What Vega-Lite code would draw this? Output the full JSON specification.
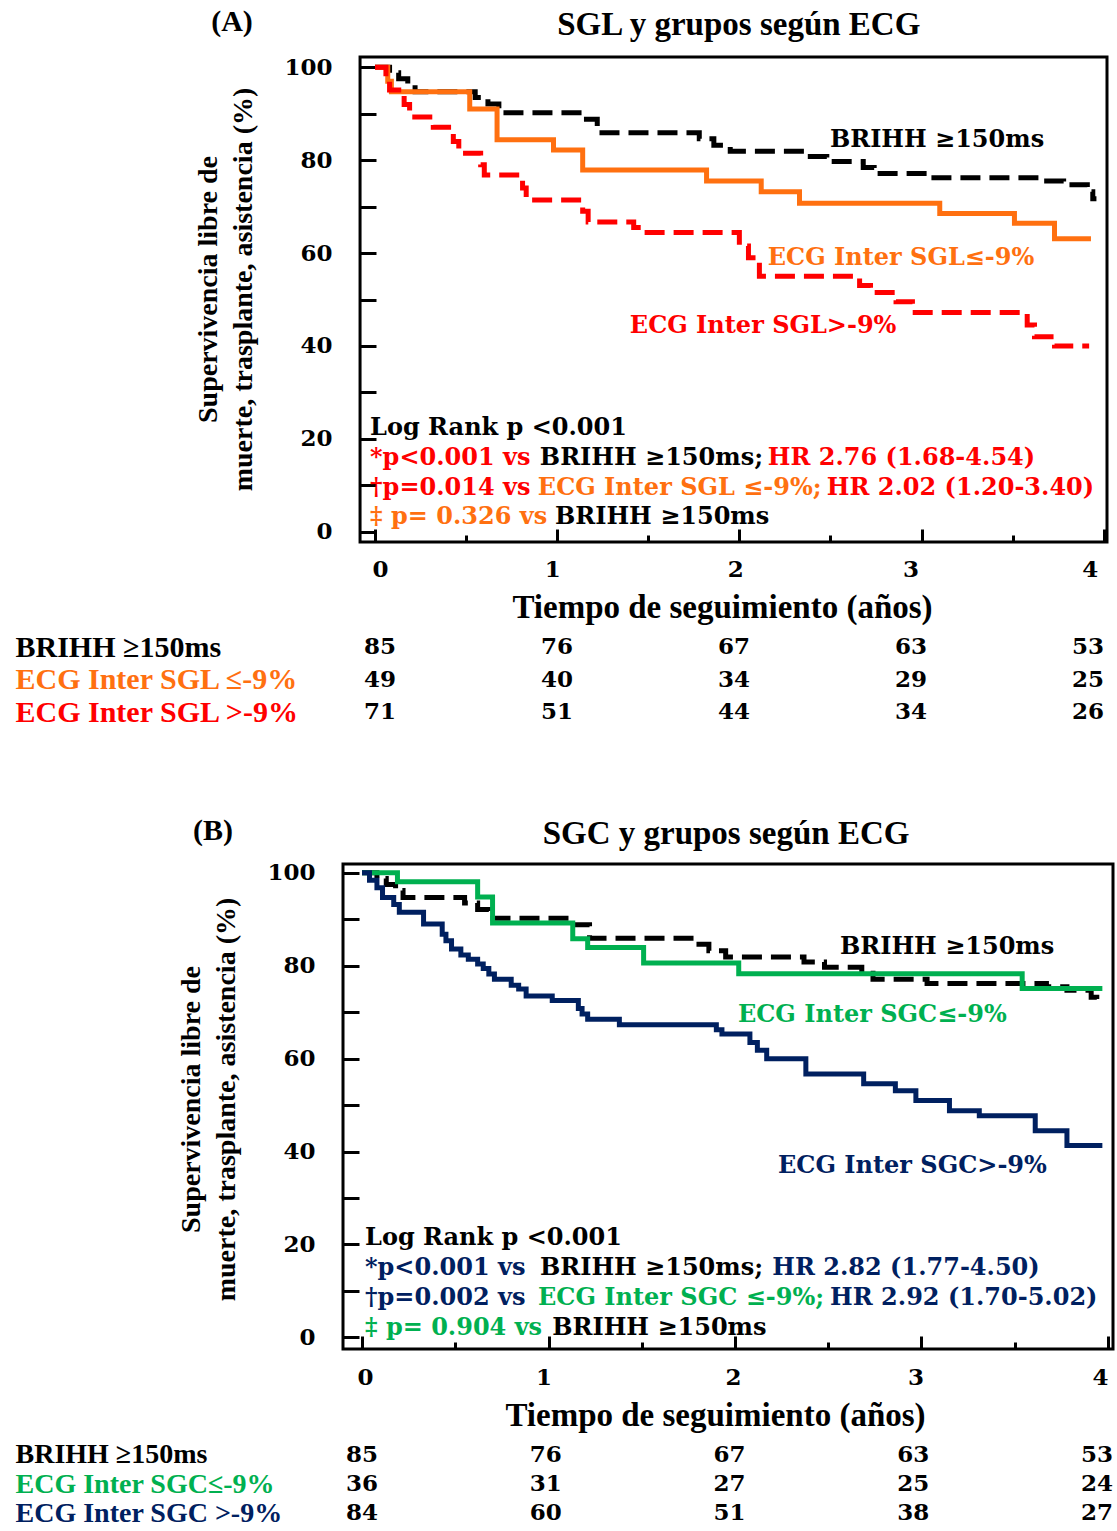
{
  "$schema": "https://vega.github.io/schema/vega-lite/v6.json",
  "background": "white",
  "padding": {"left": 15, "top": 7, "right": 0, "bottom": 0},
  "config": {
    "view": {"stroke": "black", "strokeWidth": 3},
    "axis": {"grid": false, "domain": false, "tickColor": "black", "tickWidth": 3, "labelColor": "black", "titleColor": "black"}
  },
  "resolve": {"scale": {"color": "independent", "strokeDash": "independent"}},
  "datasets": {
    "brihh": [
      {"group": "BRIHH ≥150ms", "t": 0, "s": 100},
      {"group": "BRIHH ≥150ms", "t": 0.08, "s": 98.8},
      {"group": "BRIHH ≥150ms", "t": 0.13, "s": 97.5},
      {"group": "BRIHH ≥150ms", "t": 0.18, "s": 96.2},
      {"group": "BRIHH ≥150ms", "t": 0.22, "s": 94.7},
      {"group": "BRIHH ≥150ms", "t": 0.55, "s": 93.5},
      {"group": "BRIHH ≥150ms", "t": 0.62, "s": 92.1},
      {"group": "BRIHH ≥150ms", "t": 0.68, "s": 90.2},
      {"group": "BRIHH ≥150ms", "t": 1.12, "s": 88.8},
      {"group": "BRIHH ≥150ms", "t": 1.22, "s": 85.9},
      {"group": "BRIHH ≥150ms", "t": 1.78, "s": 84.6},
      {"group": "BRIHH ≥150ms", "t": 1.86, "s": 83.2},
      {"group": "BRIHH ≥150ms", "t": 1.95, "s": 81.9},
      {"group": "BRIHH ≥150ms", "t": 2.37, "s": 80.8},
      {"group": "BRIHH ≥150ms", "t": 2.48, "s": 79.7},
      {"group": "BRIHH ≥150ms", "t": 2.68, "s": 78.4},
      {"group": "BRIHH ≥150ms", "t": 2.74, "s": 77.1},
      {"group": "BRIHH ≥150ms", "t": 3.03, "s": 76.2},
      {"group": "BRIHH ≥150ms", "t": 3.67, "s": 75.5},
      {"group": "BRIHH ≥150ms", "t": 3.78, "s": 74.7},
      {"group": "BRIHH ≥150ms", "t": 3.91, "s": 73.2},
      {"group": "BRIHH ≥150ms", "t": 3.94, "s": 71.7},
      {"group": "BRIHH ≥150ms", "t": 3.96, "s": 71.7}
    ],
    "kmA": [
      {"group": "ECG Inter SGL ≤-9%", "t": 0, "s": 100},
      {"group": "ECG Inter SGL ≤-9%", "t": 0.07, "s": 97.0},
      {"group": "ECG Inter SGL ≤-9%", "t": 0.09, "s": 94.7},
      {"group": "ECG Inter SGL ≤-9%", "t": 0.52, "s": 91.0},
      {"group": "ECG Inter SGL ≤-9%", "t": 0.67, "s": 84.4},
      {"group": "ECG Inter SGL ≤-9%", "t": 0.98, "s": 82.2},
      {"group": "ECG Inter SGL ≤-9%", "t": 1.14, "s": 77.9},
      {"group": "ECG Inter SGL ≤-9%", "t": 1.82, "s": 75.5},
      {"group": "ECG Inter SGL ≤-9%", "t": 2.12, "s": 73.2},
      {"group": "ECG Inter SGL ≤-9%", "t": 2.33, "s": 70.7},
      {"group": "ECG Inter SGL ≤-9%", "t": 3.10, "s": 68.5},
      {"group": "ECG Inter SGL ≤-9%", "t": 3.51, "s": 66.4},
      {"group": "ECG Inter SGL ≤-9%", "t": 3.73, "s": 63.1},
      {"group": "ECG Inter SGL ≤-9%", "t": 3.93, "s": 63.1},
      {"group": "ECG Inter SGL >-9%", "t": 0, "s": 100},
      {"group": "ECG Inter SGL >-9%", "t": 0.06, "s": 97.5},
      {"group": "ECG Inter SGL >-9%", "t": 0.08, "s": 95.1},
      {"group": "ECG Inter SGL >-9%", "t": 0.16, "s": 92.0},
      {"group": "ECG Inter SGL >-9%", "t": 0.19, "s": 89.3},
      {"group": "ECG Inter SGL >-9%", "t": 0.32, "s": 87.1},
      {"group": "ECG Inter SGL >-9%", "t": 0.43, "s": 84.0},
      {"group": "ECG Inter SGL >-9%", "t": 0.46, "s": 81.5},
      {"group": "ECG Inter SGL >-9%", "t": 0.58, "s": 79.0},
      {"group": "ECG Inter SGL >-9%", "t": 0.60, "s": 76.8},
      {"group": "ECG Inter SGL >-9%", "t": 0.81, "s": 74.0},
      {"group": "ECG Inter SGL >-9%", "t": 0.83, "s": 71.4},
      {"group": "ECG Inter SGL >-9%", "t": 1.14, "s": 69.0},
      {"group": "ECG Inter SGL >-9%", "t": 1.17, "s": 66.7},
      {"group": "ECG Inter SGL >-9%", "t": 1.42, "s": 65.5},
      {"group": "ECG Inter SGL >-9%", "t": 1.46, "s": 64.4},
      {"group": "ECG Inter SGL >-9%", "t": 2.00, "s": 61.5},
      {"group": "ECG Inter SGL >-9%", "t": 2.05, "s": 59.0},
      {"group": "ECG Inter SGL >-9%", "t": 2.11, "s": 55.0},
      {"group": "ECG Inter SGL >-9%", "t": 2.66, "s": 53.0},
      {"group": "ECG Inter SGL >-9%", "t": 2.72, "s": 51.5},
      {"group": "ECG Inter SGL >-9%", "t": 2.86, "s": 49.5},
      {"group": "ECG Inter SGL >-9%", "t": 2.95, "s": 47.2},
      {"group": "ECG Inter SGL >-9%", "t": 3.58, "s": 44.5},
      {"group": "ECG Inter SGL >-9%", "t": 3.62, "s": 42.0},
      {"group": "ECG Inter SGL >-9%", "t": 3.73, "s": 40.0},
      {"group": "ECG Inter SGL >-9%", "t": 3.92, "s": 40.0}
    ],
    "kmB": [
      {"group": "ECG Inter SGC≤-9%", "t": 0, "s": 100},
      {"group": "ECG Inter SGC≤-9%", "t": 0.19, "s": 98.1},
      {"group": "ECG Inter SGC≤-9%", "t": 0.62, "s": 94.8},
      {"group": "ECG Inter SGC≤-9%", "t": 0.70, "s": 89.2},
      {"group": "ECG Inter SGC≤-9%", "t": 1.13, "s": 85.8},
      {"group": "ECG Inter SGC≤-9%", "t": 1.21, "s": 83.9},
      {"group": "ECG Inter SGC≤-9%", "t": 1.51, "s": 80.6},
      {"group": "ECG Inter SGC≤-9%", "t": 2.02, "s": 78.3},
      {"group": "ECG Inter SGC≤-9%", "t": 3.54, "s": 75.1},
      {"group": "ECG Inter SGC≤-9%", "t": 3.97, "s": 75.1},
      {"group": "ECG Inter SGC >-9%", "t": 0, "s": 100},
      {"group": "ECG Inter SGC >-9%", "t": 0.04, "s": 98.4},
      {"group": "ECG Inter SGC >-9%", "t": 0.08, "s": 96.8},
      {"group": "ECG Inter SGC >-9%", "t": 0.11, "s": 94.7},
      {"group": "ECG Inter SGC >-9%", "t": 0.17, "s": 93.2},
      {"group": "ECG Inter SGC >-9%", "t": 0.20, "s": 91.5},
      {"group": "ECG Inter SGC >-9%", "t": 0.33, "s": 89.0},
      {"group": "ECG Inter SGC >-9%", "t": 0.43, "s": 86.8},
      {"group": "ECG Inter SGC >-9%", "t": 0.45, "s": 85.4},
      {"group": "ECG Inter SGC >-9%", "t": 0.48, "s": 83.6},
      {"group": "ECG Inter SGC >-9%", "t": 0.53, "s": 82.3},
      {"group": "ECG Inter SGC >-9%", "t": 0.57, "s": 81.4},
      {"group": "ECG Inter SGC >-9%", "t": 0.62, "s": 80.4},
      {"group": "ECG Inter SGC >-9%", "t": 0.65, "s": 79.4},
      {"group": "ECG Inter SGC >-9%", "t": 0.68, "s": 78.2},
      {"group": "ECG Inter SGC >-9%", "t": 0.71, "s": 77.1},
      {"group": "ECG Inter SGC >-9%", "t": 0.80, "s": 75.8},
      {"group": "ECG Inter SGC >-9%", "t": 0.84, "s": 75.0},
      {"group": "ECG Inter SGC >-9%", "t": 0.88, "s": 73.5},
      {"group": "ECG Inter SGC >-9%", "t": 1.02, "s": 72.5},
      {"group": "ECG Inter SGC >-9%", "t": 1.16, "s": 70.8},
      {"group": "ECG Inter SGC >-9%", "t": 1.18, "s": 69.6},
      {"group": "ECG Inter SGC >-9%", "t": 1.21, "s": 68.5},
      {"group": "ECG Inter SGC >-9%", "t": 1.38, "s": 67.3},
      {"group": "ECG Inter SGC >-9%", "t": 1.90, "s": 66.2},
      {"group": "ECG Inter SGC >-9%", "t": 1.93, "s": 65.3},
      {"group": "ECG Inter SGC >-9%", "t": 2.08, "s": 63.5},
      {"group": "ECG Inter SGC >-9%", "t": 2.12, "s": 61.8},
      {"group": "ECG Inter SGC >-9%", "t": 2.17, "s": 60.0},
      {"group": "ECG Inter SGC >-9%", "t": 2.38, "s": 56.7},
      {"group": "ECG Inter SGC >-9%", "t": 2.69, "s": 54.6},
      {"group": "ECG Inter SGC >-9%", "t": 2.86, "s": 53.1},
      {"group": "ECG Inter SGC >-9%", "t": 2.97, "s": 51.0},
      {"group": "ECG Inter SGC >-9%", "t": 3.15, "s": 48.8},
      {"group": "ECG Inter SGC >-9%", "t": 3.31, "s": 47.7},
      {"group": "ECG Inter SGC >-9%", "t": 3.61, "s": 44.5},
      {"group": "ECG Inter SGC >-9%", "t": 3.78, "s": 41.3},
      {"group": "ECG Inter SGC >-9%", "t": 3.97, "s": 41.3}
    ],
    "annA": [
      {"group": "BRIHH ≥150ms", "t": 2.497, "s": 84.3, "label": "BRIHH ≥150ms"},
      {"group": "ECG Inter SGL ≤-9%", "t": 2.156, "s": 58.9, "label": "ECG Inter SGL≤-9%"},
      {"group": "ECG Inter SGL >-9%", "t": 1.399, "s": 44.3, "label": "ECG Inter SGL>-9%"},
      {"group": "Global", "t": -0.027, "s": 22.3, "label": "Log Rank p <0.001"},
      {"group": "ECG Inter SGL >-9%", "t": -0.027, "s": 15.9, "label": "*p<0.001 vs"},
      {"group": "BRIHH ≥150ms", "t": 0.905, "s": 15.9, "label": "BRIHH ≥150ms;"},
      {"group": "ECG Inter SGL >-9%", "t": 2.156, "s": 15.9, "label": "HR 2.76 (1.68-4.54)"},
      {"group": "ECG Inter SGL >-9%", "t": -0.027, "s": 9.4, "label": "†p=0.014 vs"},
      {"group": "ECG Inter SGL ≤-9%", "t": 0.894, "s": 9.4, "label": "ECG Inter SGL ≤-9%;"},
      {"group": "ECG Inter SGL >-9%", "t": 2.48, "s": 9.4, "label": "HR 2.02 (1.20-3.40)"},
      {"group": "ECG Inter SGL ≤-9%", "t": -0.027, "s": 3.2, "label": "‡ p= 0.326 vs"},
      {"group": "BRIHH ≥150ms", "t": 0.988, "s": 3.2, "label": "BRIHH ≥150ms"}
    ],
    "annB": [
      {"group": "BRIHH ≥150ms", "t": 2.563, "s": 84.0, "label": "BRIHH ≥150ms"},
      {"group": "ECG Inter SGC≤-9%", "t": 2.016, "s": 69.4, "label": "ECG Inter SGC≤-9%"},
      {"group": "ECG Inter SGC >-9%", "t": 2.231, "s": 36.9, "label": "ECG Inter SGC>-9%"},
      {"group": "Global", "t": 0.016, "s": 21.4, "label": "Log Rank p <0.001"},
      {"group": "ECG Inter SGC >-9%", "t": 0.016, "s": 14.9, "label": "*p<0.001 vs"},
      {"group": "BRIHH ≥150ms", "t": 0.954, "s": 14.9, "label": "BRIHH ≥150ms;"},
      {"group": "ECG Inter SGC >-9%", "t": 2.2, "s": 14.9, "label": "HR 2.82 (1.77-4.50)"},
      {"group": "ECG Inter SGC >-9%", "t": 0.016, "s": 8.5, "label": "†p=0.002 vs"},
      {"group": "ECG Inter SGC≤-9%", "t": 0.944, "s": 8.5, "label": "ECG Inter SGC ≤-9%;"},
      {"group": "ECG Inter SGC >-9%", "t": 2.51, "s": 8.5, "label": "HR 2.92 (1.70-5.02)"},
      {"group": "ECG Inter SGC≤-9%", "t": 0.016, "s": 2.0, "label": "‡ p= 0.904 vs"},
      {"group": "BRIHH ≥150ms", "t": 1.02, "s": 2.0, "label": "BRIHH ≥150ms"}
    ],
    "titleA": [
      {"kind": "letter", "t": -0.785, "s": 109.7, "label": "(A)"},
      {"kind": "title", "t": 1.997, "s": 109.1, "label": "SGL y grupos según ECG"}
    ],
    "titleB": [
      {"kind": "letter", "t": -0.799, "s": 109.0, "label": "(B)"},
      {"kind": "title", "t": 1.952, "s": 108.4, "label": "SGC y grupos según ECG"}
    ],
    "riskA": [
      {"group": "BRIHH ≥150ms", "t": 0, "n": 85},
      {"group": "BRIHH ≥150ms", "t": 1, "n": 76},
      {"group": "BRIHH ≥150ms", "t": 2, "n": 67},
      {"group": "BRIHH ≥150ms", "t": 3, "n": 63},
      {"group": "BRIHH ≥150ms", "t": 4, "n": 53},
      {"group": "ECG Inter SGL ≤-9%", "t": 0, "n": 49},
      {"group": "ECG Inter SGL ≤-9%", "t": 1, "n": 40},
      {"group": "ECG Inter SGL ≤-9%", "t": 2, "n": 34},
      {"group": "ECG Inter SGL ≤-9%", "t": 3, "n": 29},
      {"group": "ECG Inter SGL ≤-9%", "t": 4, "n": 25},
      {"group": "ECG Inter SGL >-9%", "t": 0, "n": 71},
      {"group": "ECG Inter SGL >-9%", "t": 1, "n": 51},
      {"group": "ECG Inter SGL >-9%", "t": 2, "n": 44},
      {"group": "ECG Inter SGL >-9%", "t": 3, "n": 34},
      {"group": "ECG Inter SGL >-9%", "t": 4, "n": 26}
    ],
    "riskB": [
      {"group": "BRIHH ≥150ms", "t": 0, "n": 85},
      {"group": "BRIHH ≥150ms", "t": 1, "n": 76},
      {"group": "BRIHH ≥150ms", "t": 2, "n": 67},
      {"group": "BRIHH ≥150ms", "t": 3, "n": 63},
      {"group": "BRIHH ≥150ms", "t": 4, "n": 53},
      {"group": "ECG Inter SGC≤-9%", "t": 0, "n": 36},
      {"group": "ECG Inter SGC≤-9%", "t": 1, "n": 31},
      {"group": "ECG Inter SGC≤-9%", "t": 2, "n": 27},
      {"group": "ECG Inter SGC≤-9%", "t": 3, "n": 25},
      {"group": "ECG Inter SGC≤-9%", "t": 4, "n": 24},
      {"group": "ECG Inter SGC >-9%", "t": 0, "n": 84},
      {"group": "ECG Inter SGC >-9%", "t": 1, "n": 60},
      {"group": "ECG Inter SGC >-9%", "t": 2, "n": 51},
      {"group": "ECG Inter SGC >-9%", "t": 3, "n": 38},
      {"group": "ECG Inter SGC >-9%", "t": 4, "n": 27}
    ]
  },
  "spacing": 85,
  "columns": 1,
  "concat": [
    {
      "spacing": 7,
      "vconcat": [
        {
          "width": 764,
          "height": 485,
          "view": {"stroke": null},
          "layer": [
            {
              "data": {"values": [{}]},
              "mark": {"type": "rect", "fill": "transparent", "stroke": "#000000", "strokeWidth": 3},
              "encoding": {
                "x": {"datum": -0.082, "type": "quantitative"},
                "x2": {"datum": 4.018},
                "y": {"datum": -2.2, "type": "quantitative"},
                "y2": {"datum": 102.2}
              }
            },
            {
              "data": {"name": "brihh"},
              "mark": {"type": "line", "interpolate": "step-after", "strokeWidth": 5, "strokeCap": "butt"},
              "encoding": {
                "x": {"field": "t", "type": "quantitative",
                  "scale": {"domain": [-0.1756, 4.018], "nice": false, "zero": false},
                  "axis": {
                    "values": [0, 0.5, 1, 1.5, 2, 2.5, 3, 3.5, 4],
                    "labelExpr": "datum.value % 1 === 0 ? '' + datum.value : ''",
                    "tickSize": {"condition": {"test": "datum.value % 1 === 0", "value": -13}, "value": -7},
                    "labelFlush": false,
                    "labelOffset": {"condition": [
                      {"test": "datum.value === 0", "value": 5},
                      {"test": "datum.value === 1", "value": -5},
                      {"test": "datum.value === 2", "value": -4},
                      {"test": "datum.value === 3", "value": -11},
                      {"test": "datum.value === 4", "value": -14}
                    ], "value": 0},
                    "labelFont": "DejaVu Serif", "labelFontWeight": "bold", "labelFontSize": 23, "labelPadding": 29,
                    "title": "Tiempo de seguimiento (años)",
                    "titleFont": "Liberation Serif", "titleFontWeight": "bold", "titleFontSize": 33, "titlePadding": 10, "titleX": 379
                  }
                },
                "y": {"field": "s", "type": "quantitative",
                  "scale": {"domain": [-2.2, 102.2], "nice": false, "zero": false},
                  "axis": {
                    "offset": -17,
                    "values": [0, 5, 10, 15, 20, 25, 30, 35, 40, 45, 50, 55, 60, 65, 70, 75, 80, 85, 90, 95, 100],
                    "labelExpr": "datum.value % 20 === 0 ? '' + datum.value : ''",
                    "tickSize": {"condition": {"test": "datum.value % 10 === 0", "value": -16}, "value": -9},
                    "labelFont": "DejaVu Serif", "labelFontWeight": "bold", "labelFontSize": 23, "labelPadding": 44,
                    "title": ["Supervivencia libre de", "muerte, trasplante, asistencia (%)"],
                    "titleFont": "Liberation Serif", "titleFontWeight": "bold", "titleFontSize": 28, "titleLineHeight": 35,
                    "titlePadding": 26, "titleY": 232
                  }
                },
                "color": {"field": "group", "type": "nominal", "legend": null,
                  "scale": {"domain": ["BRIHH ≥150ms", "ECG Inter SGL ≤-9%", "ECG Inter SGL >-9%", "Global"], "range": ["#000000", "#FF7010", "#FF0000", "#000000"]}},
                "strokeDash": {"field": "group", "type": "nominal", "legend": null,
                  "scale": {"domain": ["BRIHH ≥150ms", "ECG Inter SGL ≤-9%", "ECG Inter SGL >-9%", "Global"], "range": [[20, 9], [1, 0], [20, 9], [1, 0]]}}
              }
            },
            {
              "data": {"name": "kmA"},
              "mark": {"type": "line", "interpolate": "step-after", "strokeWidth": 5, "strokeCap": "butt"},
              "encoding": {
                "x": {"field": "t", "type": "quantitative"},
                "y": {"field": "s", "type": "quantitative"},
                "color": {"field": "group", "type": "nominal", "legend": null},
                "strokeDash": {"field": "group", "type": "nominal", "legend": null}
              }
            },
            {
              "data": {"name": "annA"},
              "mark": {"type": "text", "align": "left", "baseline": "middle", "font": "DejaVu Serif", "fontWeight": "bold", "fontSize": 24},
              "encoding": {
                "x": {"field": "t", "type": "quantitative"},
                "y": {"field": "s", "type": "quantitative"},
                "text": {"field": "label", "type": "nominal"},
                "color": {"field": "group", "type": "nominal", "legend": null}
              }
            },
            {
              "data": {"name": "titleA"},
              "transform": [{"filter": "datum.kind === 'letter'"}],
              "mark": {"type": "text", "align": "center", "baseline": "middle", "font": "Liberation Serif", "fontWeight": "bold", "fontSize": 30, "color": "#000000"},
              "encoding": {
                "x": {"field": "t", "type": "quantitative"},
                "y": {"field": "s", "type": "quantitative"},
                "text": {"field": "label", "type": "nominal"}
              }
            },
            {
              "data": {"name": "titleA"},
              "transform": [{"filter": "datum.kind === 'title'"}],
              "mark": {"type": "text", "align": "center", "baseline": "middle", "font": "Liberation Serif", "fontWeight": "bold", "fontSize": 33, "color": "#000000"},
              "encoding": {
                "x": {"field": "t", "type": "quantitative"},
                "y": {"field": "s", "type": "quantitative"},
                "text": {"field": "label", "type": "nominal"}
              }
            }
          ]
        },
        {
          "data": {"name": "riskA"},
          "width": 764,
          "height": 97.5,
          "view": {"stroke": null},
          "mark": {"type": "text", "baseline": "middle", "font": "DejaVu Serif", "fontWeight": "bold", "fontSize": 23, "color": "#000000"},
          "encoding": {
            "x": {"field": "t", "type": "quantitative", "scale": {"domain": [-0.209, 4.107], "nice": false, "zero": false}, "axis": null},
            "y": {"field": "group", "type": "nominal",
              "sort": ["BRIHH ≥150ms", "ECG Inter SGL ≤-9%", "ECG Inter SGL >-9%"],
              "scale": {"type": "point", "padding": 0.5},
              "axis": {"title": null, "ticks": false, "domain": false, "labelAlign": "left", "labelPadding": 328, "labelLimit": 0,
                "labelFont": "Liberation Serif", "labelFontWeight": "bold", "labelFontSize": 30,
                "labelColor": {"condition": [
                  {"test": "datum.value === 'ECG Inter SGL ≤-9%'", "value": "#FF7010"},
                  {"test": "datum.value === 'ECG Inter SGL >-9%'", "value": "#FF0000"}
                ], "value": "#000000"}}},
            "text": {"field": "n", "type": "quantitative"}
          }
        }
      ]
    },
    {
      "spacing": 6,
      "vconcat": [
        {
          "width": 770,
          "height": 485,
          "layer": [
            {
              "data": {"name": "brihh"},
              "mark": {"type": "line", "interpolate": "step-after", "strokeWidth": 5, "strokeCap": "butt"},
              "encoding": {
                "x": {"field": "t", "type": "quantitative",
                  "scale": {"domain": [-0.102, 4.027], "nice": false, "zero": false},
                  "axis": {
                    "values": [0, 0.5, 1, 1.5, 2, 2.5, 3, 3.5, 4],
                    "labelExpr": "datum.value % 1 === 0 ? '' + datum.value : ''",
                    "tickSize": {"condition": {"test": "datum.value % 1 === 0", "value": -13}, "value": -7},
                    "labelFlush": false,
                    "labelOffset": {"condition": [
                      {"test": "datum.value === 0", "value": 3},
                      {"test": "datum.value === 1", "value": -5},
                      {"test": "datum.value === 2", "value": -2},
                      {"test": "datum.value === 3", "value": -6},
                      {"test": "datum.value === 4", "value": -8}
                    ], "value": 0},
                    "labelFont": "DejaVu Serif", "labelFontWeight": "bold", "labelFontSize": 23, "labelPadding": 30,
                    "title": "Tiempo de seguimiento (años)",
                    "titleFont": "Liberation Serif", "titleFontWeight": "bold", "titleFontSize": 33, "titlePadding": 10, "titleX": 372
                  }
                },
                "y": {"field": "s", "type": "quantitative",
                  "scale": {"domain": [-2.5, 101.9], "nice": false, "zero": false},
                  "axis": {
                    "values": [0, 5, 10, 15, 20, 25, 30, 35, 40, 45, 50, 55, 60, 65, 70, 75, 80, 85, 90, 95, 100],
                    "labelExpr": "datum.value % 20 === 0 ? '' + datum.value : ''",
                    "tickSize": {"condition": {"test": "datum.value % 10 === 0", "value": -16}, "value": -9},
                    "labelFont": "DejaVu Serif", "labelFontWeight": "bold", "labelFontSize": 23, "labelPadding": 44,
                    "title": ["Supervivencia libre de", "muerte, trasplante, asistencia (%)"],
                    "titleFont": "Liberation Serif", "titleFontWeight": "bold", "titleFontSize": 28, "titleLineHeight": 35,
                    "titlePadding": 26, "titleY": 235
                  }
                },
                "color": {"field": "group", "type": "nominal", "legend": null,
                  "scale": {"domain": ["BRIHH ≥150ms", "ECG Inter SGC≤-9%", "ECG Inter SGC >-9%", "Global"], "range": ["#000000", "#00B050", "#002060", "#000000"]}},
                "strokeDash": {"field": "group", "type": "nominal", "legend": null,
                  "scale": {"domain": ["BRIHH ≥150ms", "ECG Inter SGC≤-9%", "ECG Inter SGC >-9%", "Global"], "range": [[20, 9], [1, 0], [1, 0], [1, 0]]}}
              }
            },
            {
              "data": {"name": "kmB"},
              "mark": {"type": "line", "interpolate": "step-after", "strokeWidth": 5, "strokeCap": "butt"},
              "encoding": {
                "x": {"field": "t", "type": "quantitative"},
                "y": {"field": "s", "type": "quantitative"},
                "color": {"field": "group", "type": "nominal", "legend": null},
                "strokeDash": {"field": "group", "type": "nominal", "legend": null}
              }
            },
            {
              "data": {"name": "annB"},
              "mark": {"type": "text", "align": "left", "baseline": "middle", "font": "DejaVu Serif", "fontWeight": "bold", "fontSize": 24},
              "encoding": {
                "x": {"field": "t", "type": "quantitative"},
                "y": {"field": "s", "type": "quantitative"},
                "text": {"field": "label", "type": "nominal"},
                "color": {"field": "group", "type": "nominal", "legend": null}
              }
            },
            {
              "data": {"name": "titleB"},
              "transform": [{"filter": "datum.kind === 'letter'"}],
              "mark": {"type": "text", "align": "center", "baseline": "middle", "font": "Liberation Serif", "fontWeight": "bold", "fontSize": 30, "color": "#000000"},
              "encoding": {
                "x": {"field": "t", "type": "quantitative"},
                "y": {"field": "s", "type": "quantitative"},
                "text": {"field": "label", "type": "nominal"}
              }
            },
            {
              "data": {"name": "titleB"},
              "transform": [{"filter": "datum.kind === 'title'"}],
              "mark": {"type": "text", "align": "center", "baseline": "middle", "font": "Liberation Serif", "fontWeight": "bold", "fontSize": 33, "color": "#000000"},
              "encoding": {
                "x": {"field": "t", "type": "quantitative"},
                "y": {"field": "s", "type": "quantitative"},
                "text": {"field": "label", "type": "nominal"}
              }
            }
          ]
        },
        {
          "data": {"name": "riskB"},
          "width": 770,
          "height": 88,
          "view": {"stroke": null},
          "mark": {"type": "text", "baseline": "middle", "font": "DejaVu Serif", "fontWeight": "bold", "fontSize": 23, "color": "#000000"},
          "encoding": {
            "x": {"field": "t", "type": "quantitative", "scale": {"domain": [-0.1034, 4.087], "nice": false, "zero": false}, "axis": null},
            "y": {"field": "group", "type": "nominal",
              "sort": ["BRIHH ≥150ms", "ECG Inter SGC≤-9%", "ECG Inter SGC >-9%"],
              "scale": {"type": "point", "padding": 0.5},
              "axis": {"title": null, "ticks": false, "domain": false, "labelAlign": "left", "labelPadding": 328, "labelLimit": 0,
                "labelFont": "Liberation Serif", "labelFontWeight": "bold", "labelFontSize": 28,
                "labelColor": {"condition": [
                  {"test": "datum.value === 'ECG Inter SGC≤-9%'", "value": "#00B050"},
                  {"test": "datum.value === 'ECG Inter SGC >-9%'", "value": "#002060"}
                ], "value": "#000000"}}},
            "text": {"field": "n", "type": "quantitative"}
          }
        }
      ]
    }
  ]
}
